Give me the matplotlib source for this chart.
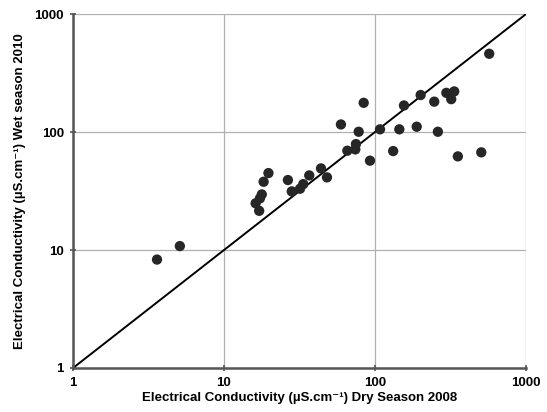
import matplotlib
matplotlib.use("Agg")
import matplotlib.pyplot as plt
import numpy as np

plt.rcParams['font.family'] = ['Liberation Sans', 'DejaVu Sans']

# EC values (uS/cm)
dry_2008 = [3.6, 5.1, 19.7, 18.3, 17.8, 17.3, 16.2, 17.1, 26.5, 28.1, 31.9, 33.5,
            36.7, 43.9, 48.1, 571, 84.2, 59.5, 155.6, 200.7, 247, 297, 335, 320,
            78, 108, 145, 189, 261, 74.8, 65.6, 74.1, 92.7, 132, 354, 506]
wet_2010 = [8.3, 10.8, 44.9, 37.9, 29.6, 27.4, 24.9, 21.5, 39.2, 31.4, 33.1, 36.2,
            42.9, 49.2, 41.3, 461, 177, 116, 168, 206, 181, 215, 221, 190,
            100.6, 105.5, 105.5, 111, 100.6, 79.1, 69.5, 71.3, 57.2, 69, 62.2, 67.3]
one_to_one = [1, 1000]
ticks = [1, 10, 100, 1000]
tick_labels = ['1', '10', '100', '1000']

fig = plt.figure(figsize=(5.47, 4.12), dpi=100)
ax = fig.add_axes([0.1335, 0.1068, 0.828, 0.859])

ax.set_xscale('log')
ax.set_yscale('log')
ax.set_xlim(1, 1000)
ax.set_ylim(1, 1000)

ax.grid(True, which='major', color='#b0b0b0', linewidth=0.9)
ax.set_axisbelow(True)

ax.plot(one_to_one, one_to_one, color='black', linewidth=1.4, zorder=2)
ax.scatter(dry_2008, wet_2010, s=55, color='#262626', edgecolors='none', zorder=3)

ax.set_xticks(ticks)
ax.set_xticklabels(tick_labels)
ax.set_yticks(ticks)
ax.set_yticklabels(tick_labels)
ax.minorticks_off()
ax.tick_params(axis='both', direction='inout', length=5, width=1.2, color='#555555',
               labelsize=9.5, pad=4)
for lbl in ax.get_xticklabels() + ax.get_yticklabels():
    lbl.set_fontweight('bold')

for s in ['top', 'right']:
    ax.spines[s].set_visible(False)
for s in ['left', 'bottom']:
    ax.spines[s].set_color('#555555')
    ax.spines[s].set_linewidth(1.8)

ax.set_xlabel('Electrical Conductivity (µS.cm⁻¹) Dry Season 2008',
              fontsize=9.5, fontweight='bold', labelpad=2)
ax.set_ylabel('Electrical Conductivity (µS.cm⁻¹) Wet season 2010',
              fontsize=9.5, fontweight='bold', labelpad=6)

fig.savefig('out.png', dpi=100)
